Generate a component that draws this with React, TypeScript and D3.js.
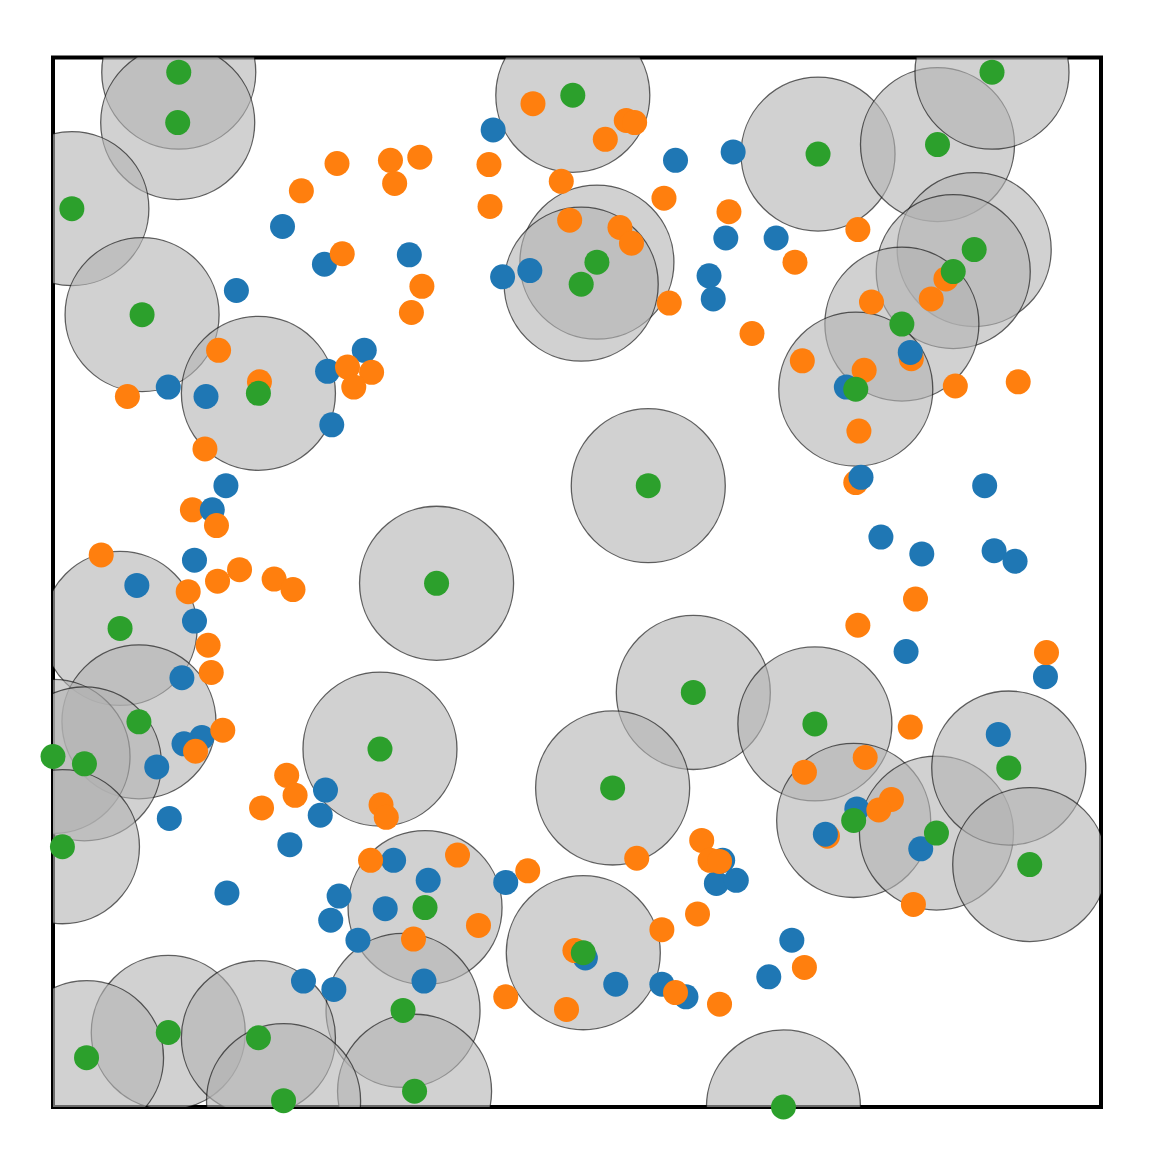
import React from "react";
import * as d3 from "d3";

const blueX = [0.420,0.594,0.649,0.219,0.340,0.259,0.175,0.429,0.455,0.626,0.630,0.642,0.690,0.297,0.262,0.110,0.146,0.266,0.165,0.152,0.135,0.080,0.135,0.123,0.142,0.125,0.099,0.260,0.255,0.111,0.226,0.325,0.166,0.273,0.265,0.317,0.291,0.239,0.268,0.358,0.432,0.354,0.508,0.537,0.581,0.604,0.639,0.633,0.652,0.683,0.705,0.737,0.767,0.828,0.818,0.757,0.771,0.889,0.790,0.829,0.898,0.918,0.814,0.947,0.902];
const blueY = [0.931,0.902,0.910,0.839,0.812,0.803,0.778,0.791,0.797,0.792,0.770,0.828,0.828,0.721,0.701,0.686,0.677,0.650,0.592,0.569,0.521,0.497,0.463,0.409,0.352,0.346,0.324,0.302,0.278,0.275,0.250,0.235,0.204,0.201,0.178,0.189,0.159,0.120,0.112,0.216,0.214,0.120,0.142,0.117,0.117,0.105,0.235,0.213,0.216,0.124,0.159,0.260,0.284,0.246,0.719,0.686,0.600,0.592,0.543,0.527,0.530,0.520,0.434,0.410,0.355];

const orangeX = [0.458,0.547,0.555,0.527,0.350,0.322,0.326,0.271,0.237,0.416,0.485,0.417,0.583,0.493,0.541,0.552,0.645,0.276,0.352,0.342,0.588,0.667,0.768,0.708,0.852,0.838,0.781,0.819,0.715,0.774,0.861,0.921,0.158,0.281,0.304,0.287,0.197,0.071,0.145,0.133,0.156,0.046,0.157,0.178,0.211,0.229,0.129,0.148,0.151,0.162,0.136,0.769,0.766,0.823,0.768,0.948,0.818,0.775,0.717,0.800,0.788,0.739,0.821,0.717,0.223,0.231,0.199,0.313,0.318,0.303,0.386,0.453,0.406,0.344,0.619,0.557,0.627,0.636,0.615,0.581,0.498,0.432,0.490,0.594,0.636];
const orangeY = [0.956,0.940,0.938,0.922,0.905,0.902,0.880,0.899,0.873,0.898,0.882,0.858,0.866,0.845,0.838,0.823,0.853,0.813,0.782,0.757,0.766,0.737,0.836,0.805,0.789,0.770,0.767,0.713,0.711,0.702,0.687,0.691,0.721,0.705,0.700,0.686,0.691,0.677,0.627,0.569,0.554,0.526,0.501,0.512,0.503,0.493,0.491,0.440,0.414,0.359,0.339,0.644,0.595,0.484,0.459,0.433,0.362,0.333,0.319,0.293,0.283,0.258,0.193,0.133,0.316,0.297,0.285,0.288,0.276,0.235,0.240,0.225,0.173,0.160,0.254,0.237,0.235,0.234,0.184,0.169,0.149,0.105,0.093,0.109,0.098];
// orange points that sit beneath the blue layer in the reference
const orangeBelowBlue = [27, 39, 52, 61];

const greenX = [0.120,0.119,0.018,0.085,0.196,0.496,0.519,0.504,0.730,0.844,0.896,0.879,0.859,0.810,0.766,0.568,0.366,0.064,0.082,0.000,0.030,0.009,0.312,0.611,0.727,0.534,0.355,0.334,0.345,0.506,0.110,0.032,0.196,0.220,0.764,0.843,0.912,0.932,0.697];
const greenY = [0.986,0.938,0.856,0.755,0.680,0.964,0.805,0.784,0.908,0.917,0.986,0.817,0.796,0.746,0.684,0.592,0.499,0.456,0.367,0.334,0.327,0.248,0.341,0.395,0.365,0.304,0.190,0.092,0.015,0.147,0.071,0.047,0.066,0.006,0.273,0.261,0.323,0.231,0.000];

const circleRadius = 0.0735;

export default function App() {
  const x = d3.scaleLinear().domain([0, 1]).range([53, 1101]);
  const y = d3.scaleLinear().domain([0, 1]).range([1107, 57.5]);
  const rPx = x(circleRadius) - x(0);
  const dotR = 12.5;
  const pts = (xs: number[], ys: number[]) => xs.map((v, i) => [v, ys[i]] as [number, number]);
  const blue = pts(blueX, blueY);
  const orange = pts(orangeX, orangeY);
  const green = pts(greenX, greenY);
  const orangeLow = orange.filter((_, i) => orangeBelowBlue.includes(i));
  const orangeHigh = orange.filter((_, i) => !orangeBelowBlue.includes(i));
  return (
    <svg width={1153} height={1166} style={{ position: "fixed", left: 0, top: 0, background: "#fff" }}>
      <defs>
        <clipPath id="axclip">
          <rect x={x(0)} y={y(1)} width={x(1) - x(0)} height={y(0) - y(1)} />
        </clipPath>
      </defs>
      <rect x={x(0)} y={y(1)} width={x(1) - x(0)} height={y(0) - y(1)} fill="none" stroke="#000" strokeWidth={4} />
      <g clipPath="url(#axclip)">
        {green.map(([a, b], i) => (
          <circle key={"c" + i} cx={x(a)} cy={y(b)} r={rPx} fill="#b3b3b3" fillOpacity={0.6} stroke="#000" strokeOpacity={0.6} strokeWidth={1.3} />
        ))}
      </g>
      <g>
        {orangeLow.map(([a, b], i) => <circle key={"ol" + i} cx={x(a)} cy={y(b)} r={dotR} fill="#ff7f0e" />)}
        {blue.map(([a, b], i) => <circle key={"b" + i} cx={x(a)} cy={y(b)} r={dotR} fill="#1f77b4" />)}
        {orangeHigh.map(([a, b], i) => <circle key={"o" + i} cx={x(a)} cy={y(b)} r={dotR} fill="#ff7f0e" />)}
        {green.map(([a, b], i) => <circle key={"g" + i} cx={x(a)} cy={y(b)} r={dotR} fill="#2ca02c" />)}
      </g>
    </svg>
  );
}
